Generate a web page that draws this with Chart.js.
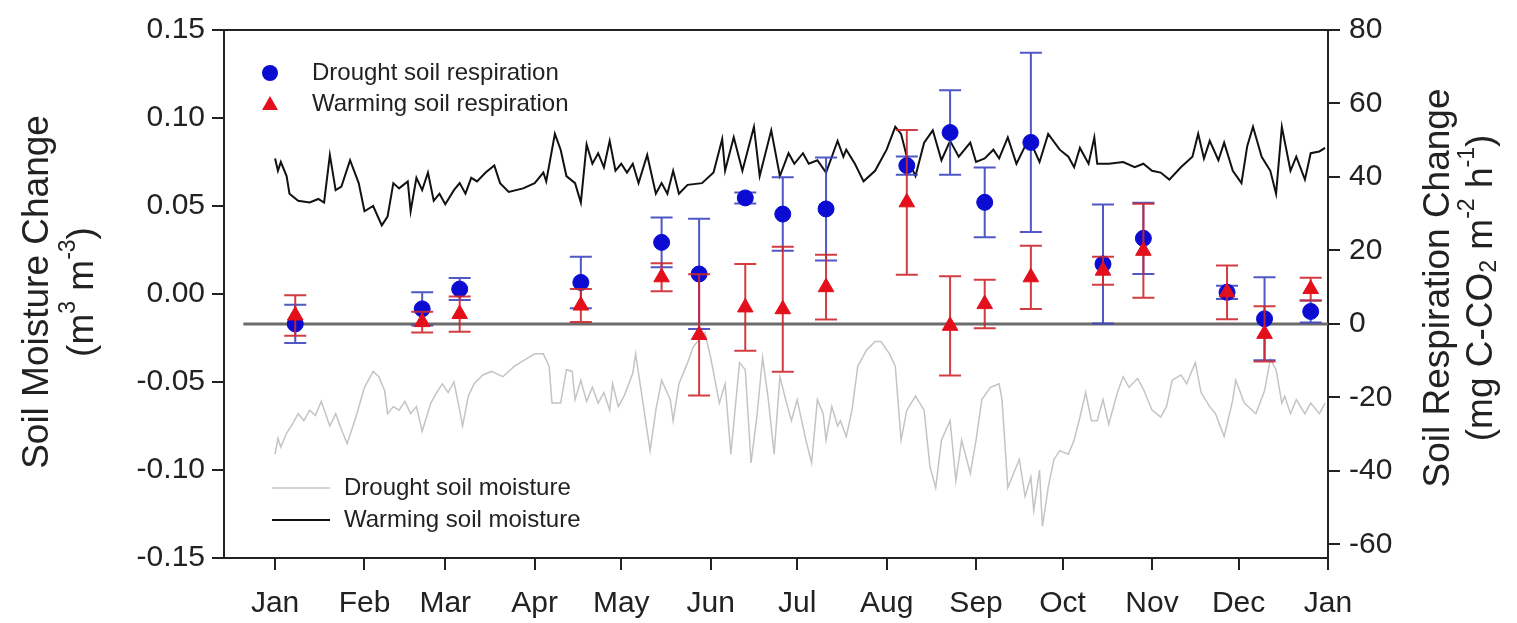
<!DOCTYPE html>
<html lang="en">
<head>
<meta charset="UTF-8">
<title>Soil moisture and soil respiration change</title>
<script src="https://cdn.jsdelivr.net/npm/chart.js"></script>
<style>
  body { margin: 0; background: #fff; }
  #wrap { width: 1517px; height: 623px; }
</style>
</head>
<body>
<div id="wrap"><canvas id="chart" width="1517" height="623"></canvas></div>
<script>
// x axis: day of year, month ticks
const monthDays = [0, 31, 59, 90, 120, 151, 181, 212, 243, 273, 304, 334, 365];
const monthLabels = ['Jan', 'Feb', 'Mar', 'Apr', 'May', 'Jun', 'Jul', 'Aug', 'Sep', 'Oct', 'Nov', 'Dec', 'Jan'];
const moistureTicks = [-0.15, -0.10, -0.05, 0, 0.05, 0.10, 0.15];
const respirationTicks = [-60, -40, -20, 0, 20, 40, 60, 80];

// soil respiration samples (right axis)
const sampleDays = [7, 51, 64, 106, 134, 147, 163, 176, 191, 219, 234, 246, 262, 287, 301, 330, 343, 359];
const droughtResp = [0, 4.1, 9.5, 11.3, 22.2, 13.6, 34.3, 29.9, 31.3, 43.1, 52.1, 33.1, 49.4, 16.3, 23.3, 8.6, 1.4, 3.4];
const droughtRespErr = [5.2, 4.5, 3, 7, 6.8, 15, 1.5, 10, 14, 2.5, 11.5, 9.5, 24.4, 16.2, 9.7, 1.8, 11.3, 3];
const warmingResp = [2.3, 0.5, 2.7, 5, 12.7, -3, 4.5, 4, 10, 33.1, -0.5, 5.4, 12.7, 14.5, 19.9, 8.6, -2.7, 9.5];
const warmingRespErr = [5.5, 2.8, 4.8, 4.5, 3.8, 16.5, 11.8, 17, 8.8, 19.7, 13.5, 6.6, 8.6, 3.8, 12.8, 7.3, 7.5, 3.1];

// daily soil moisture change (left axis)
const warmingMoistDays = [0, 1, 2, 4, 5, 8, 12, 15, 17, 19, 21, 23, 26, 29, 31, 34, 37, 39, 41, 43, 46, 47, 49, 51, 53, 55, 57, 59, 62, 64, 66, 68, 70, 73, 76, 78, 81, 86, 90, 93, 94, 97, 99, 101, 104, 106, 108, 110, 112, 114, 116, 118, 120, 122, 124, 126, 129, 132, 134, 136, 138, 140, 143, 148, 152, 155, 156, 159, 162, 166, 168, 172, 175, 178, 180, 183, 185, 188, 191, 193, 195, 197, 198, 201, 204, 208, 212, 215, 217, 219, 222, 225, 228, 231, 234, 237, 241, 243, 246, 249, 251, 254, 257, 260, 262, 265, 268, 272, 275, 277, 279, 282, 284, 285, 289, 294, 298, 301, 304, 307, 310, 314, 318, 320, 322, 324, 327, 329, 332, 335, 337, 339, 342, 345, 347, 349, 352, 354, 357, 359, 362, 364];
const warmingMoist = [0.077, 0.070, 0.075, 0.067, 0.057, 0.053, 0.052, 0.054, 0.052, 0.079, 0.059, 0.061, 0.076, 0.063, 0.047, 0.050, 0.039, 0.044, 0.063, 0.060, 0.064, 0.047, 0.066, 0.059, 0.069, 0.053, 0.057, 0.051, 0.059, 0.063, 0.057, 0.066, 0.064, 0.069, 0.073, 0.063, 0.058, 0.060, 0.063, 0.069, 0.064, 0.091, 0.082, 0.067, 0.063, 0.052, 0.085, 0.074, 0.080, 0.072, 0.087, 0.070, 0.074, 0.069, 0.074, 0.063, 0.079, 0.057, 0.063, 0.057, 0.070, 0.057, 0.062, 0.063, 0.069, 0.088, 0.070, 0.089, 0.070, 0.095, 0.067, 0.093, 0.067, 0.080, 0.074, 0.080, 0.074, 0.076, 0.069, 0.078, 0.087, 0.078, 0.082, 0.074, 0.064, 0.070, 0.082, 0.095, 0.091, 0.078, 0.067, 0.086, 0.093, 0.076, 0.087, 0.078, 0.086, 0.075, 0.077, 0.082, 0.077, 0.089, 0.074, 0.084, 0.086, 0.075, 0.091, 0.082, 0.078, 0.072, 0.083, 0.074, 0.089, 0.074, 0.074, 0.075, 0.072, 0.074, 0.070, 0.069, 0.065, 0.072, 0.078, 0.091, 0.077, 0.087, 0.076, 0.086, 0.070, 0.063, 0.084, 0.095, 0.078, 0.070, 0.057, 0.095, 0.070, 0.078, 0.065, 0.080, 0.081, 0.083];
const droughtMoistDays = [0, 1, 2, 4, 6, 8, 10, 12, 14, 16, 19, 21, 23, 25, 28, 31, 34, 36, 38, 39, 41, 43, 45, 47, 49, 51, 54, 56, 58, 60, 62, 64, 65, 67, 69, 72, 75, 79, 83, 86, 90, 93, 95, 96, 99, 101, 103, 104, 106, 108, 110, 112, 114, 116, 117, 119, 121, 124, 125, 127, 130, 132, 134, 137, 138, 140, 143, 145, 147, 149, 151, 154, 156, 158, 161, 163, 165, 167, 169, 171, 173, 175, 177, 179, 181, 184, 186, 188, 190, 191, 193, 195, 196, 198, 200, 202, 205, 208, 210, 213, 215, 217, 219, 222, 225, 227, 229, 231, 234, 236, 238, 241, 243, 245, 248, 251, 252, 254, 256, 258, 260, 262, 263, 265, 266, 268, 270, 272, 275, 277, 279, 281, 283, 285, 287, 289, 292, 294, 296, 299, 301, 304, 307, 309, 311, 314, 316, 319, 321, 324, 326, 329, 332, 333, 336, 340, 343, 345, 347, 349, 350, 352, 354, 357, 359, 362, 364];
const droughtMoist = [-0.091, -0.082, -0.087, -0.079, -0.074, -0.068, -0.072, -0.066, -0.069, -0.061, -0.075, -0.068, -0.077, -0.085, -0.070, -0.053, -0.044, -0.047, -0.055, -0.068, -0.064, -0.066, -0.061, -0.068, -0.064, -0.078, -0.062, -0.056, -0.051, -0.056, -0.050, -0.066, -0.075, -0.058, -0.051, -0.046, -0.044, -0.047, -0.041, -0.038, -0.034, -0.034, -0.041, -0.062, -0.062, -0.043, -0.044, -0.060, -0.049, -0.061, -0.053, -0.062, -0.056, -0.066, -0.051, -0.064, -0.058, -0.045, -0.034, -0.056, -0.089, -0.066, -0.049, -0.060, -0.072, -0.051, -0.039, -0.030, -0.026, -0.022, -0.036, -0.062, -0.051, -0.091, -0.039, -0.043, -0.096, -0.070, -0.036, -0.060, -0.091, -0.047, -0.060, -0.072, -0.060, -0.083, -0.096, -0.060, -0.068, -0.083, -0.064, -0.075, -0.072, -0.081, -0.066, -0.041, -0.032, -0.027, -0.027, -0.034, -0.041, -0.083, -0.066, -0.058, -0.066, -0.098, -0.110, -0.083, -0.072, -0.106, -0.083, -0.102, -0.083, -0.060, -0.053, -0.051, -0.060, -0.110, -0.102, -0.094, -0.115, -0.104, -0.123, -0.100, -0.132, -0.110, -0.094, -0.089, -0.091, -0.083, -0.070, -0.056, -0.072, -0.072, -0.060, -0.074, -0.056, -0.047, -0.053, -0.048, -0.054, -0.066, -0.070, -0.064, -0.049, -0.046, -0.051, -0.039, -0.056, -0.064, -0.068, -0.081, -0.060, -0.049, -0.062, -0.068, -0.055, -0.037, -0.043, -0.062, -0.058, -0.068, -0.060, -0.068, -0.062, -0.068, -0.062];

const FONT = 'Arial, "Liberation Sans", Helvetica, sans-serif';
const INK = '#222';
const BLUE = '#0b0bd2';
const RED = '#e3101c';

function pts(xs, ys) { return xs.map((x, i) => ({ x: x, y: ys[i] })); }

// rotated text with super/subscripts, reading bottom to top
function drawRich(ctx, parts, cx, cy, size) {
  ctx.save();
  ctx.translate(cx, cy);
  ctx.rotate(-Math.PI / 2);
  ctx.textBaseline = 'middle';
  ctx.textAlign = 'left';
  ctx.fillStyle = INK;
  const widths = parts.map(p => {
    ctx.font = (p[1] ? Math.round(size * 0.62) : size) + 'px ' + FONT;
    return ctx.measureText(p[0]).width;
  });
  let x = -widths.reduce((a, b) => a + b, 0) / 2;
  parts.forEach((p, i) => {
    ctx.font = (p[1] ? Math.round(size * 0.62) : size) + 'px ' + FONT;
    const dy = p[1] === 'sup' ? -size * 0.38 : p[1] === 'sub' ? size * 0.22 : 0;
    ctx.fillText(p[0], x, dy);
    x += widths[i];
  });
  ctx.restore();
}

const extras = {
  id: 'extras',
  beforeDatasetDraw(chart, args) {
    const ds = chart.data.datasets[args.index];
    if (!ds.errors) return;
    const xs = chart.scales.x, ys = chart.scales.yR, ctx = chart.ctx;
    ctx.save();
    ctx.strokeStyle = ds.errColor;
    ctx.lineWidth = 2;
    ds.data.forEach((p, i) => {
      const px = xs.getPixelForValue(p.x);
      const top = ys.getPixelForValue(p.y + ds.errors[i]);
      const bot = ys.getPixelForValue(p.y - ds.errors[i]);
      ctx.beginPath();
      ctx.moveTo(px, top); ctx.lineTo(px, bot);
      ctx.moveTo(px - 11, top); ctx.lineTo(px + 11, top);
      ctx.moveTo(px - 11, bot); ctx.lineTo(px + 11, bot);
      ctx.stroke();
    });
    ctx.restore();
  },
  afterDraw(chart) {
    const ctx = chart.ctx, a = chart.chartArea;
    ctx.save();
    // top frame line
    ctx.strokeStyle = INK;
    ctx.lineWidth = 2;
    ctx.beginPath();
    ctx.moveTo(a.left, a.top); ctx.lineTo(a.right, a.top);
    ctx.stroke();

    // legends
    ctx.font = '24px ' + FONT;
    ctx.fillStyle = INK;
    ctx.textBaseline = 'middle';
    ctx.textAlign = 'left';
    ctx.fillText('Drought soil respiration', 312, 73);
    ctx.fillText('Warming soil respiration', 312, 104);
    ctx.fillText('Drought soil moisture', 344, 488);
    ctx.fillText('Warming soil moisture', 344, 520);

    ctx.fillStyle = BLUE;
    ctx.beginPath(); ctx.arc(270, 73, 8, 0, Math.PI * 2); ctx.fill();
    ctx.fillStyle = RED;
    ctx.beginPath(); ctx.moveTo(270, 96); ctx.lineTo(278, 110); ctx.lineTo(262, 110); ctx.closePath(); ctx.fill();

    ctx.lineWidth = 1.5;
    ctx.strokeStyle = '#c4c4c4';
    ctx.beginPath(); ctx.moveTo(272, 488); ctx.lineTo(330, 488); ctx.stroke();
    ctx.lineWidth = 2;
    ctx.strokeStyle = '#111';
    ctx.beginPath(); ctx.moveTo(272, 520); ctx.lineTo(330, 520); ctx.stroke();
    ctx.restore();

    // axis titles
    drawRich(ctx, [['Soil Moisture Change']], 38, 292, 37);
    drawRich(ctx, [['(m'], ['3', 'sup'], [' m'], ['-3', 'sup'], [')']], 83, 292, 37);
    drawRich(ctx, [['Soil Respiration Change']], 1439, 288, 37);
    drawRich(ctx, [['(mg C-CO'], ['2', 'sub'], [' m'], ['-2', 'sup'], [' h'], ['-1', 'sup'], [')']], 1482, 288, 37);
  }
};

const axisGrid = { drawOnChartArea: false, tickLength: 12, color: INK, lineWidth: 2 };
const axisBorder = { display: true, color: INK, width: 2 };
const tickFont = { family: FONT, size: 30 };

new Chart(document.getElementById('chart'), {
  type: 'scatter',
  data: {
    datasets: [
      {
        label: 'Warming soil respiration',
        data: pts(sampleDays, warmingResp),
        errors: warmingRespErr,
        errColor: 'rgba(205, 40, 45, 0.9)',
        yAxisID: 'yR',
        pointStyle: 'triangle',
        pointRadius: 9,
        backgroundColor: RED,
        borderColor: RED,
        borderWidth: 1,
        order: 1
      },
      {
        label: 'Drought soil respiration',
        data: pts(sampleDays, droughtResp),
        errors: droughtRespErr,
        errColor: 'rgba(60, 70, 190, 0.9)',
        yAxisID: 'yR',
        pointStyle: 'circle',
        pointRadius: 8,
        backgroundColor: BLUE,
        borderColor: BLUE,
        borderWidth: 1,
        order: 2
      },
      {
        label: 'zero',
        data: [{ x: -11, y: 0 }, { x: 365, y: 0 }],
        yAxisID: 'yR',
        showLine: true,
        pointRadius: 0,
        borderColor: '#6c6c6c',
        borderWidth: 3,
        order: 3
      },
      {
        label: 'Warming soil moisture',
        data: pts(warmingMoistDays, warmingMoist),
        yAxisID: 'y',
        showLine: true,
        pointRadius: 0,
        borderColor: '#111',
        borderWidth: 2,
        order: 4
      },
      {
        label: 'Drought soil moisture',
        data: pts(droughtMoistDays, droughtMoist),
        yAxisID: 'y',
        showLine: true,
        pointRadius: 0,
        borderColor: '#c4c4c4',
        borderWidth: 1.5,
        order: 5
      }
    ]
  },
  options: {
    responsive: false,
    devicePixelRatio: 1,
    animation: false,
    events: [],
    layout: { padding: { top: 30, left: 0, right: 0, bottom: 0 } },
    plugins: { legend: { display: false }, tooltip: { enabled: false } },
    scales: {
      x: {
        type: 'linear',
        position: 'bottom',
        min: -17.7,
        max: 365,
        afterFit(s) { s.height = 65; },
        afterBuildTicks(s) { s.ticks = monthDays.map(v => ({ value: v })); },
        ticks: {
          autoSkip: false, maxRotation: 0, padding: 16,
          color: INK, font: tickFont,
          callback: (v, i) => monthLabels[i]
        },
        grid: axisGrid,
        border: axisBorder
      },
      y: {
        position: 'left',
        min: -0.15,
        max: 0.15,
        afterFit(s) { s.width = 224; },
        afterBuildTicks(s) { s.ticks = moistureTicks.map(v => ({ value: v })); },
        ticks: { padding: 7, color: INK, font: tickFont, callback: v => v.toFixed(2) },
        grid: axisGrid,
        border: axisBorder
      },
      yR: {
        position: 'right',
        min: -63.7,
        max: 80,
        afterFit(s) { s.width = 189; },
        afterBuildTicks(s) { s.ticks = respirationTicks.map(v => ({ value: v })); },
        ticks: { padding: 9, color: INK, font: tickFont, callback: v => String(v) },
        grid: axisGrid,
        border: axisBorder
      }
    }
  },
  plugins: [extras]
});
</script>
</body>
</html>
